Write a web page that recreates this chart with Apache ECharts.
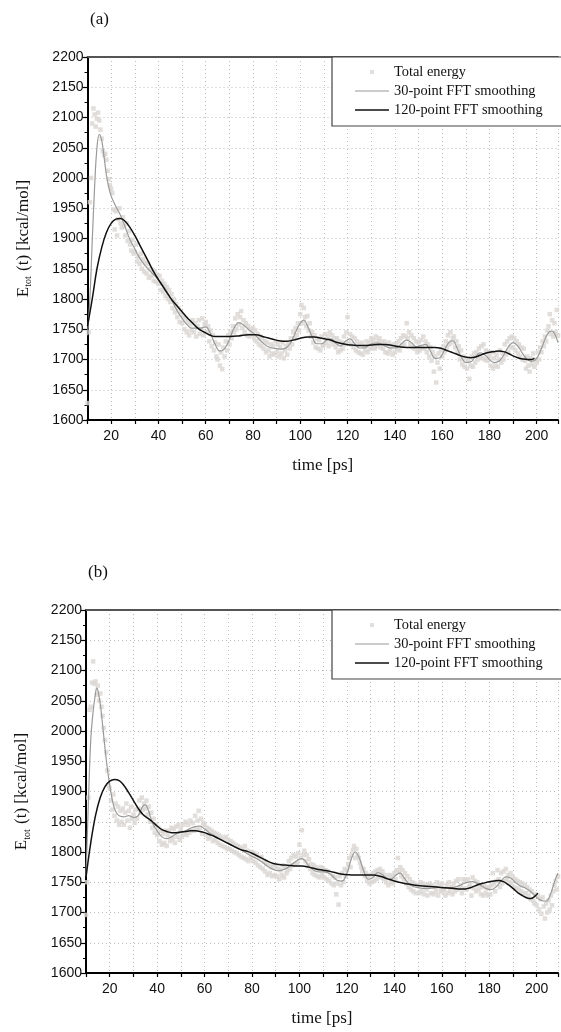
<!DOCTYPE html>
<html><head><meta charset="utf-8">
<script src="https://cdn.jsdelivr.net/npm/echarts@6/dist/echarts.min.js"></script>
<style>html,body{margin:0;padding:0;background:#fff}#c{width:561px;height:1032px}</style>
</head><body><div id="c"></div>
<script>
// sampling of the raw total-energy trace (ps)
const timeStart = 10, timeStep = 0.5;
const xTicks = [20,40,60,80,100,120,140,160,180,200];
const seriesNames = ['Total energy','30-point FFT smoothing','120-point FFT smoothing'];

// panel (a) raw total energy, one value every 0.5 ps from 10 ps
const energyA = [
1628,1745,1960,2000,2090,2115,2105,2085,2098,2108,
2095,2080,2065,2045,2038,2040,2030,2012,1998,1988,
1982,1975,1948,1915,1945,1905,1932,1950,1925,1918,
1935,1920,1905,1925,1896,1912,1890,1880,1898,1875,
1878,1890,1862,1870,1858,1875,1850,1866,1845,1860,
1842,1858,1835,1850,1838,1848,1830,1845,1828,1840,
1825,1838,1815,1830,1812,1825,1805,1820,1800,1815,
1795,1808,1785,1800,1778,1792,1770,1785,1762,1778,
1760,1772,1750,1768,1745,1762,1740,1758,1748,1765,
1745,1760,1738,1755,1765,1742,1750,1768,1740,1758,
1762,1745,1755,1730,1748,1722,1740,1715,1728,1705,
1700,1725,1690,1712,1684,1720,1705,1730,1715,1740,
1725,1745,1735,1755,1745,1768,1750,1775,1758,1770,
1780,1752,1765,1745,1760,1740,1755,1738,1750,1742,
1752,1735,1748,1730,1742,1725,1738,1722,1735,1718,
1730,1712,1728,1715,1705,1725,1710,1722,1708,1730,
1712,1725,1705,1720,1710,1728,1702,1715,1722,1708,
1728,1718,1735,1725,1745,1735,1752,1740,1760,1748,
1775,1790,1760,1785,1770,1755,1772,1748,1760,1738,
1745,1728,1740,1720,1735,1718,1732,1715,1738,1722,
1725,1742,1728,1738,1722,1745,1730,1740,1725,1735,
1720,1735,1712,1730,1715,1728,1718,1738,1725,1745,
1770,1728,1742,1725,1738,1720,1735,1715,1730,1712,
1725,1710,1728,1708,1722,1715,1730,1712,1728,1718,
1735,1720,1732,1718,1738,1722,1730,1735,1720,1728,
1718,1730,1712,1725,1710,1728,1715,1722,1708,1725,
1712,1726,1718,1730,1715,1735,1722,1740,1725,1738,
1760,1735,1745,1725,1740,1720,1735,1718,1730,1712,
1728,1715,1732,1720,1738,1718,1730,1712,1725,1705,
1720,1698,1712,1680,1705,1662,1695,1710,1685,1715,
1705,1722,1712,1730,1720,1740,1725,1745,1728,1735,
1738,1720,1730,1712,1722,1700,1715,1692,1705,1688,
1700,1685,1698,1668,1690,1705,1688,1710,1695,1712,
1700,1718,1705,1722,1702,1725,1700,1715,1698,1712,
1705,1690,1712,1685,1702,1690,1708,1688,1700,1715,
1695,1710,1700,1725,1708,1730,1712,1735,1720,1738,
1720,1735,1715,1730,1710,1725,1705,1720,1700,1718,
1698,1685,1705,1690,1680,1702,1692,1710,1688,1700,
1695,1712,1700,1720,1712,1730,1722,1738,1730,1748,
1755,1775,1742,1765,1738,1760,1745,1782,1740,1720
];
const fft30A = [[10,1740],[11,1800],[12,1895],[13,1985],[14,2050],[15,2072],[16,2062],[17,2035],[18,2005],[19,1985],[20,1970],[22,1953],[24,1938],[26,1918],[28,1898],[30,1883],[32,1868],[34,1857],[36,1848],[38,1840],[40,1832],[42,1822],[44,1810],[46,1795],[48,1780],[50,1768],[52,1758],[54,1752],[56,1752],[58,1752],[60,1754],[62,1743],[64,1725],[66,1714],[68,1718],[70,1733],[72,1752],[74,1761],[76,1757],[78,1750],[80,1744],[82,1736],[84,1728],[86,1722],[88,1719],[90,1718],[92,1717],[94,1719],[96,1728],[98,1745],[100,1760],[101.5,1765],[103,1756],[105,1738],[107,1726],[109,1726],[111,1732],[113,1734],[115,1727],[117,1722],[119,1730],[121,1734],[123,1726],[125,1719],[127,1719],[129,1723],[131,1727],[133,1727],[135,1724],[137,1720],[139,1719],[141,1720],[143,1727],[145,1732],[147,1728],[149,1721],[151,1723],[153,1725],[155,1714],[157,1702],[159,1703],[161,1716],[163,1729],[164.5,1731],[166,1722],[168,1705],[170,1695],[172,1696],[174,1704],[176,1711],[178,1708],[180,1700],[182,1695],[184,1697],[186,1707],[188,1721],[190,1728],[192,1722],[194,1710],[196,1700],[198,1697],[200,1702],[202,1718],[204,1738],[206,1747],[207,1746],[209,1728]];
const fft120A = [[10,1755],[12,1800],[14,1850],[16,1885],[18,1910],[20,1925],[22,1932],[24,1933],[26,1928],[28,1918],[30,1905],[32,1890],[34,1875],[36,1860],[38,1845],[40,1832],[42,1820],[44,1808],[46,1797],[48,1788],[50,1779],[52,1770],[54,1762],[56,1754],[58,1748],[60,1744],[62,1740],[64,1738],[67,1738],[70,1738],[74,1739],[78,1741],[81,1741],[85,1737],[88,1734],[91,1731],[94,1730],[97,1732],[100,1735],[103,1737],[106,1737],[109,1735],[112,1733],[115,1729],[118,1726],[121,1724],[124,1723],[127,1723],[130,1724],[133,1725],[136,1725],[139,1723],[142,1721],[145,1720],[148,1720],[151,1720],[154,1720],[157,1720],[160,1718],[162,1715],[164,1712],[166,1709],[168,1706],[170,1704],[172,1703],[174,1704],[176,1707],[178,1710],[180,1712],[182,1713],[184,1714],[186,1713],[188,1710],[190,1706],[192,1703],[194,1701],[196,1700],[198,1700],[199,1702]];

// panel (b)
const energyB = [
1696,1750,1890,2035,2040,2080,2115,2078,2082,2060,
2075,2050,2062,2040,2025,2005,1985,1965,1935,1910,
1905,1885,1870,1895,1860,1880,1852,1875,1845,1868,
1850,1872,1845,1865,1880,1852,1868,1840,1875,1855,
1862,1848,1870,1855,1872,1885,1865,1890,1870,1880,
1872,1885,1862,1875,1850,1865,1840,1855,1832,1845,
1828,1840,1818,1835,1812,1830,1815,1835,1810,1828,
1835,1818,1840,1822,1838,1815,1842,1825,1845,1820,
1838,1825,1845,1830,1850,1828,1845,1832,1852,1835,
1848,1835,1860,1838,1852,1868,1840,1855,1830,1848,
1845,1828,1840,1822,1838,1825,1835,1818,1832,1820,
1830,1815,1828,1812,1825,1810,1822,1808,1825,1805,
1820,1805,1818,1802,1815,1800,1812,1798,1810,1795,
1808,1792,1805,1790,1810,1788,1802,1785,1800,1790,
1800,1785,1798,1782,1795,1778,1790,1775,1792,1772,
1785,1768,1780,1762,1778,1765,1775,1760,1778,1762,
1775,1760,1772,1755,1770,1762,1778,1758,1775,1765,
1770,1785,1772,1790,1778,1795,1780,1792,1782,1798,
1812,1790,1836,1795,1802,1785,1795,1778,1788,1772,
1780,1765,1778,1762,1775,1760,1772,1758,1775,1762,
1772,1758,1770,1755,1768,1752,1765,1748,1760,1745,
1758,1730,1748,1713,1760,1745,1765,1750,1772,1760,
1770,1780,1790,1775,1795,1803,1810,1790,1805,1795,
1790,1782,1775,1768,1772,1760,1765,1752,1760,1748,
1762,1750,1765,1752,1768,1755,1770,1760,1772,1758,
1768,1755,1762,1750,1758,1745,1762,1750,1760,1748,
1765,1755,1770,1790,1768,1775,1760,1770,1755,1765,
1748,1760,1742,1755,1738,1750,1735,1748,1732,1745,
1745,1732,1750,1735,1748,1730,1745,1738,1728,1745,
1748,1732,1745,1730,1742,1735,1750,1728,1745,1735,
1748,1735,1738,1728,1745,1732,1750,1735,1742,1730,
1748,1735,1752,1738,1755,1740,1745,1732,1755,1740,
1752,1738,1755,1742,1745,1728,1758,1740,1752,1735,
1750,1738,1745,1730,1742,1728,1745,1732,1740,1728,
1742,1730,1745,1765,1748,1735,1752,1770,1755,1742,
1765,1748,1768,1752,1772,1755,1762,1750,1765,1748,
1758,1742,1755,1740,1752,1738,1750,1735,1748,1732,
1745,1732,1742,1728,1738,1722,1735,1720,1715,1730,
1712,1728,1705,1722,1698,1725,1710,1690,1715,1700,
1720,1705,1728,1712,1735,1745,1752,1738,1760,1750
];
const fft30B = [[10,1760],[11,1880],[12,1985],[13,2032],[14,2062],[14.5,2071],[15,2067],[16,2045],[17,2010],[18,1972],[19,1938],[20,1910],[21,1888],[22,1872],[23,1864],[24,1860],[26,1858],[28,1860],[30,1857],[32,1860],[33,1868],[34,1876],[35,1878],[36,1872],[37,1860],[38,1848],[40,1835],[42,1825],[44,1822],[46,1825],[48,1830],[50,1832],[52,1835],[54,1839],[56,1842],[58,1843],[60,1838],[62,1832],[64,1827],[66,1822],[68,1818],[70,1814],[72,1810],[74,1806],[76,1802],[78,1797],[80,1793],[82,1789],[84,1784],[86,1778],[88,1773],[91,1769],[94,1772],[97,1780],[99,1786],[101,1789],[102,1787],[104,1777],[106,1770],[108,1767],[110,1767],[112,1766],[114,1760],[116,1753],[118,1752],[120,1765],[122,1790],[123.5,1800],[125,1792],[127,1770],[129,1755],[131,1758],[133,1766],[135,1763],[137,1755],[139,1756],[141,1763],[142.5,1765],[144,1758],[146,1748],[148,1743],[150,1741],[152,1740],[155,1740],[158,1741],[161,1741],[164,1741],[167,1744],[170,1749],[173,1751],[176,1746],[179,1739],[181,1738],[183,1743],[185,1752],[187,1759],[189,1757],[191,1750],[193,1744],[195,1741],[197,1736],[199,1729],[201,1722],[203,1719],[204.5,1720],[206,1732],[208,1756],[209,1765]];
const fft120B = [[10,1758],[12,1815],[14,1860],[16,1890],[18,1908],[20,1917],[22,1920],[24,1918],[26,1910],[28,1898],[30,1885],[32,1872],[34,1862],[36,1856],[38,1850],[40,1843],[42,1837],[44,1834],[46,1832],[48,1832],[50,1833],[52,1834],[54,1835],[56,1835],[58,1834],[60,1832],[62,1829],[64,1826],[66,1822],[68,1818],[70,1814],[72,1810],[74,1806],[76,1803],[78,1801],[80,1798],[83,1792],[86,1786],[89,1781],[92,1779],[95,1778],[98,1777],[101,1777],[104,1775],[107,1772],[110,1770],[113,1768],[116,1765],[119,1763],[122,1762],[125,1762],[128,1762],[131,1762],[134,1760],[137,1756],[140,1752],[143,1749],[146,1747],[149,1745],[152,1744],[155,1743],[158,1742],[161,1741],[164,1740],[167,1739],[170,1739],[172,1741],[174,1744],[176,1747],[178,1749],[180,1751],[182,1752],[184,1753],[186,1751],[188,1746],[190,1740],[192,1733],[194,1728],[196,1724],[197.5,1723],[199,1726],[200.5,1732]];

const chart = echarts.init(document.getElementById('c'), null, {renderer:'canvas'});
const serif = 'Liberation Serif';
const sans = 'Liberation Sans';
const toPts = arr => arr.map((e,i)=>[timeStart + i*timeStep, e]);
const box = 'M0,0L0.01,0L0,0.01Z M34,12L33.99,12L34,11.99Z';

function xBottom(g){
  return {gridIndex:g, type:'value', min:10, max:209, interval:10,
    axisLine:{onZero:false, lineStyle:{color:'#000', width:2}},
    axisTick:{length:4, lineStyle:{color:'#000', width:1.2}},
    axisLabel:{formatter:v=> xTicks.includes(v) ? String(v) : '', fontFamily:sans, fontSize:14, color:'#111', margin:9},
    splitLine:{show:true, lineStyle:{type:[1,3], color:'#bbb', width:1}},
    name:'time [ps]', nameLocation:'middle', nameGap:37,
    nameTextStyle:{fontFamily:serif, fontSize:17, color:'#111'}};
}
function xTop(g){
  return {gridIndex:g, type:'value', min:10, max:209, position:'top',
    axisLine:{onZero:false, lineStyle:{color:'#555', width:2}},
    axisTick:{show:false}, axisLabel:{show:false}, splitLine:{show:false}};
}
function yAx(g){
  return {gridIndex:g, type:'value', min:1600, max:2200, interval:50,
    axisLine:{show:true, onZero:false, lineStyle:{color:'#000', width:2}},
    axisTick:{show:true, length:5, lineStyle:{color:'#000', width:1.2}},
    minorTick:{show:true, splitNumber:2, length:3, lineStyle:{color:'#000', width:1}},
    axisLabel:{formatter:v=>String(v), fontFamily:sans, fontSize:14, color:'#111', margin:4},
    splitLine:{show:true, lineStyle:{type:[1,3], color:'#bbb', width:1}},
    name:'{a|E}{s|tot}{a| (t) [kcal/mol]}', nameLocation:'middle', nameGap:54,
    nameTextStyle:{rich:{
      a:{fontFamily:serif, fontSize:17, color:'#111', lineHeight:20},
      s:{fontFamily:serif, fontSize:10, color:'#111', lineHeight:20, verticalAlign:'bottom', padding:[0,1,0,0]}
    }}};
}
function legendAt(top){
  return {left:332, top:top, orient:'vertical', itemWidth:34, itemHeight:12, itemGap:5,
    padding:[8,60,9,23], borderColor:'#444', borderWidth:1.2, backgroundColor:'#fff',
    textStyle:{fontFamily:serif, fontSize:14.4, color:'#111'},
    selectedMode:false,
    data:[
      {name:seriesNames[0], icon:'path://' + box + ' M15,4L19,4L19,8L15,8Z'},
      {name:seriesNames[1], icon:'path://' + box + ' M0,5.4L34,5.4L34,6.6L0,6.6Z', itemStyle:{color:'#9a9a9a'}},
      {name:seriesNames[2], icon:'path://' + box + ' M0,5.2L34,5.2L34,6.8L0,6.8Z', itemStyle:{color:'#111'}}
    ]};
}
function panelSeries(xi, yi, energy, f30, f120){
  return [
    {type:'scatter', name:seriesNames[0], xAxisIndex:xi, yAxisIndex:yi, data:toPts(energy),
      symbol:'rect', symbolSize:4.5, itemStyle:{color:'#d9d6d3'}, z:1, silent:true},
    {type:'line', name:seriesNames[1], xAxisIndex:xi, yAxisIndex:yi, data:f30, smooth:0.4,
      symbol:'none', lineStyle:{color:'#9a9a9a', width:1.2}, itemStyle:{color:'#9a9a9a'}, z:2, silent:true},
    {type:'line', name:seriesNames[2], xAxisIndex:xi, yAxisIndex:yi, data:f120, smooth:0.4,
      symbol:'none', lineStyle:{color:'#111', width:1.5}, itemStyle:{color:'#111'}, z:3, silent:true}
  ];
}

chart.setOption({
  animation:false,
  backgroundColor:'#fff',
  grid:[
    {left:87.5, top:57, width:473.5, height:363},
    {left:86, top:610, width:475, height:363}
  ],
  xAxis:[xBottom(0), xTop(0), xBottom(1), xTop(1)],
  yAxis:[yAx(0), yAx(1)],
  legend:[legendAt(57), legendAt(610)],
  graphic:[
    {type:'text', left:90, top:11, style:{text:'(a)', font:'17px "Liberation Serif"', fill:'#111'}},
    {type:'text', left:88, top:564, style:{text:'(b)', font:'17px "Liberation Serif"', fill:'#111'}}
  ],
  series:[].concat(
    panelSeries(0, 0, energyA, fft30A, fft120A),
    panelSeries(2, 1, energyB, fft30B, fft120B)
  )
});
</script>
</body></html>
